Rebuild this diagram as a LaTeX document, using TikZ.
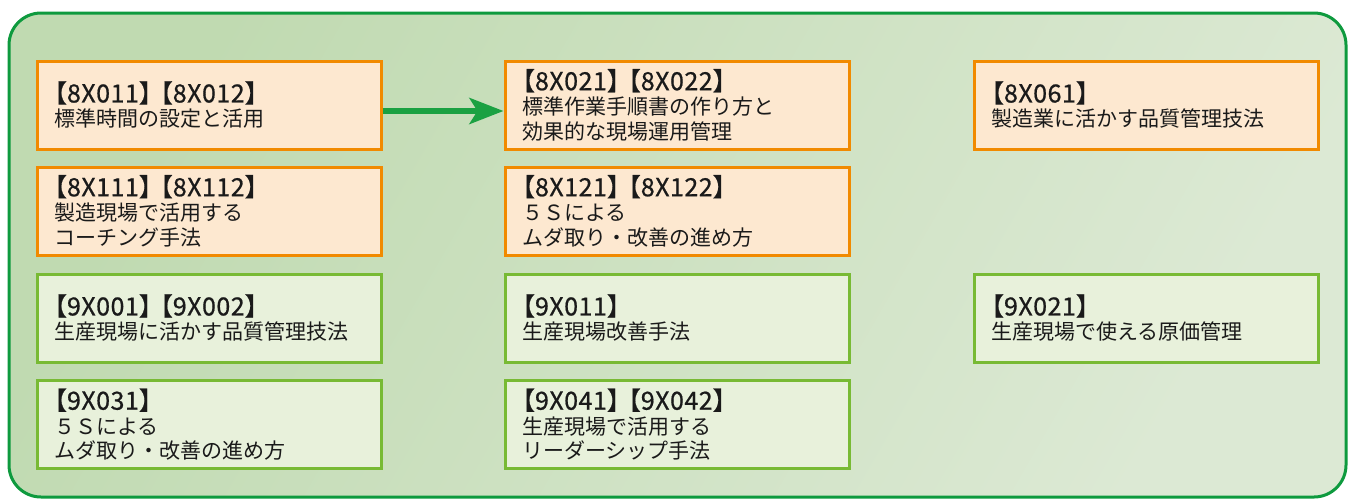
\documentclass[tikz,border=0pt]{standalone}
\usepackage{fontspec}
\setmainfont{Noto Sans CJK JP}
\newfontfamily\codefont[FakeBold=0.7, LetterSpace=2, RawFeature=+palt]{Noto Sans CJK JP}
\newcommand{\cc}[1]{{\codefont\fontsize{25pt}{24.5pt}\selectfont #1}}
\newcommand{\gp}{\hspace{8pt}}
\usetikzlibrary{arrows.meta}
\definecolor{outerline}{HTML}{0E9A3E}
\definecolor{bgA}{HTML}{C0DAB1}
\definecolor{bgB}{HTML}{DCE9D4}
\definecolor{orline}{HTML}{F18A00}
\definecolor{orfill}{HTML}{FDE8D0}
\definecolor{grline}{HTML}{78BA34}
\definecolor{grfill}{HTML}{E8F1DB}
\definecolor{arrowgreen}{HTML}{1BA142}
\definecolor{txt}{HTML}{1A1A1A}
\tikzset{
  course/.style={rectangle, line width=3pt, minimum width=344pt, minimum height=88pt,
    text width=310pt, inner xsep=17pt, inner ysep=2pt, align=left, text=txt,
    font=\fontsize{21pt}{24.5pt}\selectfont},
  orbox/.style={course, draw=orline, fill=orfill},
  grbox/.style={course, draw=grline, fill=grfill},
  flow/.style={draw=arrowgreen, line width=6pt, -{Stealth[length=34pt,width=26pt,inset=8pt]}}
}
\begin{document}
\begin{tikzpicture}[x=1pt,y=-1pt]
\useasboundingbox (0,0) rectangle (1349,499);
\path[rounded corners=32pt, left color=bgA, right color=bgB, shading angle=60] (9,13) rectangle (1346,497);
\draw[outerline, line width=3pt, rounded corners=32pt] (9,13) rectangle (1346,497);
% column 1
\node[orbox] (a1) at (209,105) {\cc{【8X011】\gp【8X012】}\\標準時間の設定と活用};
\node[orbox] (a2) at (209,211) {\cc{【8X111】\gp【8X112】}\\製造現場で活用する\\コーチング手法};
\node[grbox] (a3) at (209,318) {\cc{【9X001】\gp【9X002】}\\生産現場に活かす品質管理技法};
\node[grbox] (a4) at (209,424.5) {\cc{【9X031】}\\５Ｓによる\\ムダ取り・改善の進め方};
% column 2
\node[orbox] (b1) at (677,105) {\cc{【8X021】\gp【8X022】}\\標準作業手順書の作り方と\\効果的な現場運用管理};
\node[orbox] (b2) at (677,211) {\cc{【8X121】\gp【8X122】}\\５Ｓによる\\ムダ取り・改善の進め方};
\node[grbox] (b3) at (677,318) {\cc{【9X011】}\\生産現場改善手法};
\node[grbox] (b4) at (677,424.5) {\cc{【9X041】\gp【9X042】}\\生産現場で活用する\\リーダーシップ手法};
% column 3
\node[orbox] (c1) at (1146,105) {\cc{【8X061】}\\製造業に活かす品質管理技法};
\node[grbox] (c3) at (1146,318) {\cc{【9X021】}\\生産現場で使える原価管理};
% arrow
\draw[flow] ([yshift=-6pt]a1.east) -- ([yshift=-6pt]b1.west);
\end{tikzpicture}
\end{document}
